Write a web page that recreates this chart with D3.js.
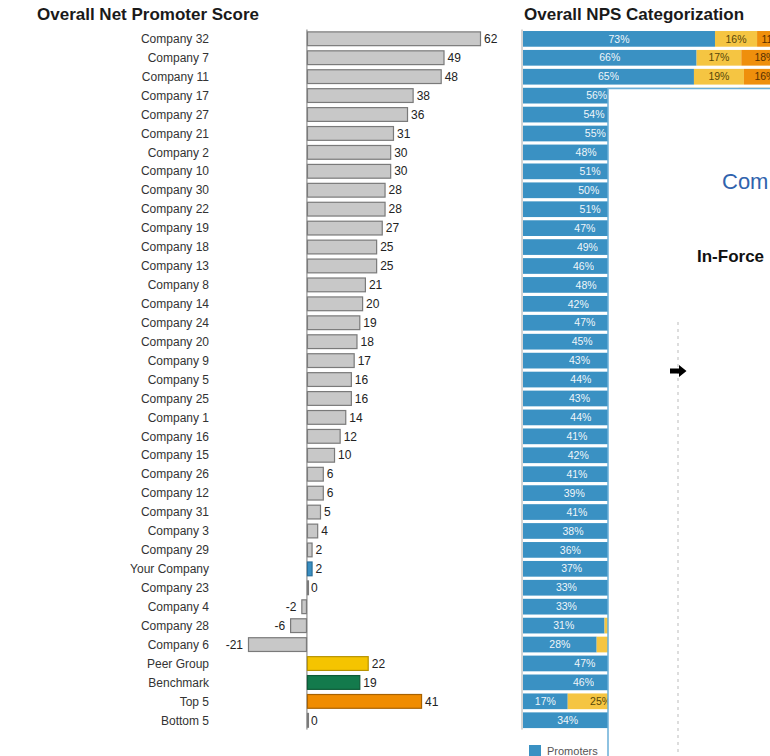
<!DOCTYPE html>
<html>
<head>
<meta charset="utf-8">
<script src="https://cdn.jsdelivr.net/npm/d3@7"></script>
<style>
  html, body { margin: 0; padding: 0; background: #fff; }
  svg { display: block; font-family: Arial, "Liberation Sans", sans-serif; }
</style>
</head>
<body>
<svg id="chart" width="770" height="756"></svg>
<script>
const categories = ["Company 32","Company 7","Company 11","Company 17","Company 27","Company 21","Company 2","Company 10","Company 30","Company 22",
  "Company 19","Company 18","Company 13","Company 8","Company 14","Company 24","Company 20","Company 9","Company 5","Company 25",
  "Company 1","Company 16","Company 15","Company 26","Company 12","Company 31","Company 3","Company 29","Your Company","Company 23",
  "Company 4","Company 28","Company 6","Peer Group","Benchmark","Top 5","Bottom 5"];
const npsValues = [62,49,48,38,36,31,30,30,28,28,27,25,25,21,20,19,18,17,16,16,14,12,10,6,6,5,4,2,2,0,-2,-6,-21,22,19,41,0];
const promoters = [73,66,65,56,54,55,48,51,50,51,47,49,46,48,42,47,45,43,44,43,44,41,42,41,39,41,38,36,37,33,33,31,28,47,46,17,34];
const passives  = [16,17,19,26,28,21,34,28,28,26,33,27,33,25,36,25,28,31,28,30,26,30,26,24,28,23,28,30,28,34,32,32,23,28,27,25,32];
const detractors= [11,18,16,18,18,24,18,21,22,23,20,24,21,27,22,28,27,26,28,27,30,29,32,35,33,36,34,34,35,33,35,37,49,25,27,58,34];
const segmentNames = ["Promoters","Passives","Detractors"];

const svg = d3.select("#chart");

// overlay panel geometry (panel that covers part of the categorization chart)
const panelX = 608, panelY = 88.5;

// ---------- Left chart: Overall Net Promoter Score ----------
const y = d3.scaleBand().domain(categories).range([29.5, 729.6]).paddingInner(0.22).paddingOuter(0.1);
const x = d3.scaleLinear().domain([-21, 62]).range([248, 481]);

const fills = {"Your Company": ["#3a8fc2", "#2a6f9a"], "Peer Group": ["#f5c400", "#b89300"],
  "Benchmark": ["#137a4c", "#0d5a37"], "Top 5": ["#f08c00", "#a86200"]};
const defaultFill = ["#c8c8c8", "#7a7a7a"];

svg.append("text").attr("x", 37).attr("y", 20).attr("font-size", 17).attr("font-weight", "bold")
  .attr("fill", "#1a1a1a").text("Overall Net Promoter Score");

const left = svg.append("g");
const leftAxis = left.append("g").attr("transform", `translate(${x(0)},0)`)
  .call(d3.axisLeft(y).tickSize(0).tickFormat(""));
leftAxis.select(".domain").attr("stroke", "#777").attr("stroke-width", 1).attr("d", `M0,${y.range()[0]}V${y.range()[1]}`);

left.selectAll("text.cat").data(categories).join("text").attr("class", "cat")
  .attr("x", 209).attr("y", d => y(d) + y.bandwidth() / 2).attr("dy", "0.35em")
  .attr("text-anchor", "end").attr("font-size", 12).attr("fill", "#333").text(d => d);

left.selectAll("rect.nps").data(categories).join("rect").attr("class", "nps")
  .attr("x", (d, i) => Math.min(x(0), x(npsValues[i])) + 0.5)
  .attr("y", d => y(d) + 0.5)
  .attr("width", (d, i) => Math.max(1, Math.abs(x(npsValues[i]) - x(0)) - 1))
  .attr("height", y.bandwidth() - 1)
  .attr("fill", d => (fills[d] || defaultFill)[0])
  .attr("stroke", d => (fills[d] || defaultFill)[1]).attr("stroke-width", 1.2);

left.selectAll("text.val").data(categories).join("text").attr("class", "val")
  .attr("x", (d, i) => npsValues[i] < 0 ? x(npsValues[i]) - 5 : Math.max(x(npsValues[i]), x(0) + 1) + 3)
  .attr("y", d => y(d) + y.bandwidth() / 2).attr("dy", "0.35em")
  .attr("text-anchor", (d, i) => npsValues[i] < 0 ? "end" : "start")
  .attr("font-size", 12).attr("fill", "#222").text((d, i) => npsValues[i]);

// ---------- Right chart: Overall NPS Categorization ----------
svg.append("text").attr("x", 524).attr("y", 20).attr("font-size", 17).attr("font-weight", "bold")
  .attr("fill", "#1a1a1a").text("Overall NPS Categorization");

const y2 = d3.scaleBand().domain(categories).range([29.5, 729.6]).paddingInner(0.17).paddingOuter(0.08);
const x2 = d3.scaleLinear().domain([0, 100]).range([523, 786]);
const segColors = d3.scaleOrdinal().domain(segmentNames).range(["#3a91c3", "#f5c542", "#ef8f0c"]);
const segText = d3.scaleOrdinal().domain(segmentNames).range(["#ffffff", "#3a3000", "#3a2000"]);

const table = categories.map((c, i) => ({cat: c, Promoters: promoters[i], Passives: passives[i], Detractors: detractors[i]}));
const stacked = d3.stack().keys(segmentNames)(table);

// clip: everything visible above the panel, and only the part left of the panel below it
const defs = svg.append("defs");
const cp = defs.append("clipPath").attr("id", "visibleArea");
cp.append("rect").attr("x", 0).attr("y", 0).attr("width", 800).attr("height", panelY);
cp.append("rect").attr("x", 0).attr("y", 0).attr("width", panelX).attr("height", 800);

const right = svg.append("g").attr("clip-path", "url(#visibleArea)");
right.append("line").attr("x1", 522).attr("x2", 522).attr("y1", y2.range()[0]).attr("y2", y2.range()[1])
  .attr("stroke", "#aaa").attr("stroke-width", 1);

const layers = right.selectAll("g.layer").data(stacked).join("g").attr("class", "layer");
layers.selectAll("rect").data(d => d.map(p => ({key: d.key, p}))).join("rect")
  .attr("x", d => x2(d.p[0])).attr("y", d => y2(d.p.data.cat))
  .attr("width", d => x2(d.p[1]) - x2(d.p[0])).attr("height", y2.bandwidth())
  .attr("fill", d => segColors(d.key));

// labels: skip the ones that lie completely behind the panel
const visibleLabel = d => {
  const cx = (x2(d.p[0]) + x2(d.p[1])) / 2;
  return y2(d.p.data.cat) + y2.bandwidth() < panelY || cx - 10 < panelX;
};
layers.selectAll("text").data(d => d.map(p => ({key: d.key, p})).filter(visibleLabel)).join("text")
  .attr("x", d => (x2(d.p[0]) + x2(d.p[1])) / 2).attr("y", d => y2(d.p.data.cat) + y2.bandwidth() / 2)
  .attr("dy", "0.35em").attr("text-anchor", "middle").attr("font-size", 10.5)
  .attr("fill", d => segText(d.key)).attr("opacity", d => d.key === "Promoters" ? 0.92 : 0.85)
  .text(d => (d.p[1] - d.p[0]) + "%");

// legend
const legend = svg.append("g");
legend.append("rect").attr("x", 529).attr("y", 745).attr("width", 12).attr("height", 12).attr("fill", segColors("Promoters"));
legend.append("text").attr("x", 547).attr("y", 755).attr("font-size", 11).attr("fill", "#555").text("Promoters");

// ---------- Overlay panel ----------
const overlay = svg.append("g");
overlay.append("rect").attr("x", panelX).attr("y", panelY).attr("width", 200).attr("height", 700)
  .attr("fill", "#fff").attr("stroke", "#6aaed8").attr("stroke-width", 1.5);
overlay.append("text").attr("x", 722).attr("y", 189).attr("font-size", 22).attr("fill", "#3063ad").text("Com");
overlay.append("text").attr("x", 697).attr("y", 262).attr("font-size", 17).attr("font-weight", "bold")
  .attr("fill", "#111").text("In-Force");
overlay.append("line").attr("x1", 678).attr("x2", 678).attr("y1", 322).attr("y2", 756)
  .attr("stroke", "#bbb").attr("stroke-width", 1).attr("stroke-dasharray", "3,4");
overlay.append("path").attr("d", "M670,368.5H679V365L686.5,371L679,377V373.5H670Z").attr("fill", "#000");
</script>
</body>
</html>
